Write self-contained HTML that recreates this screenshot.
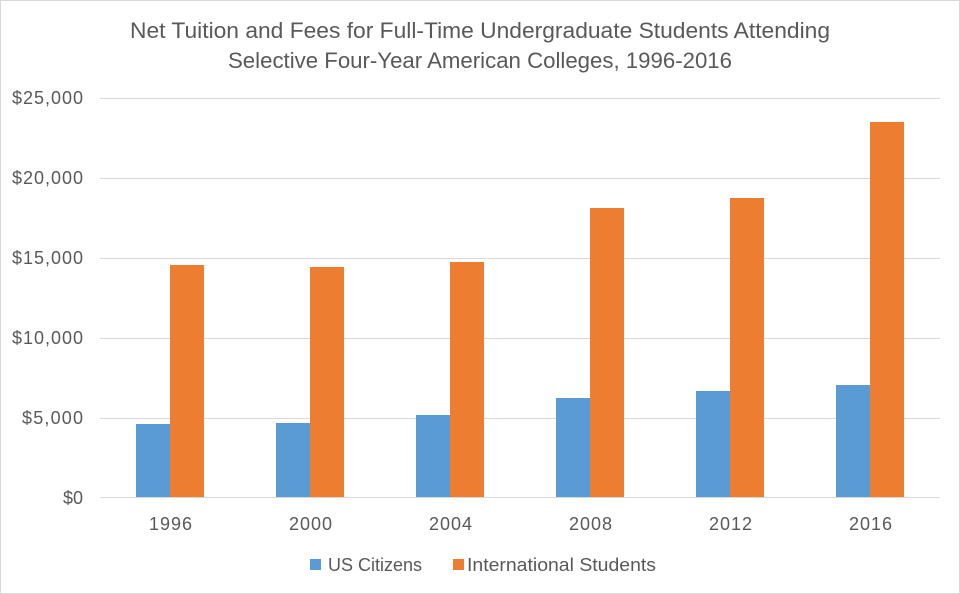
<!DOCTYPE html>
<html><head><meta charset="utf-8"><style>
body{margin:0;background:#fff;}
svg{display:block;font-family:"Liberation Sans",sans-serif;}
</style></head><body>
<svg width="960" height="594" viewBox="0 0 960 594">
<rect x="0.5" y="0.5" width="959" height="593" fill="#fff" stroke="#d9d9d9"/>
<text x="130" y="38" font-size="22" fill="#595959" textLength="700" lengthAdjust="spacingAndGlyphs">Net Tuition and Fees for Full-Time Undergraduate Students Attending</text>
<text x="228" y="68" font-size="22" fill="#595959" textLength="504" lengthAdjust="spacingAndGlyphs">Selective Four-Year American Colleges, 1996-2016</text>
<g stroke="#d9d9d9" stroke-width="1">
<line x1="100" x2="940" y1="98.5" y2="98.5"/>
<line x1="100" x2="940" y1="178.5" y2="178.5"/>
<line x1="100" x2="940" y1="258.5" y2="258.5"/>
<line x1="100" x2="940" y1="338.5" y2="338.5"/>
<line x1="100" x2="940" y1="418.5" y2="418.5"/>
<line x1="100" x2="940" y1="497.5" y2="497.5"/>
</g>
<g font-size="18" fill="#595959" lengthAdjust="spacingAndGlyphs">
<text x="12" y="104" textLength="71">$25,000</text>
<text x="12" y="184" textLength="71">$20,000</text>
<text x="12" y="264" textLength="71">$15,000</text>
<text x="12" y="344" textLength="71">$10,000</text>
<text x="22" y="424" textLength="61">$5,000</text>
<text x="63" y="504" textLength="20">$0</text>
</g>
<g fill="#5B9BD5">
<rect x="136" y="424" width="34" height="73"/>
<rect x="276" y="423" width="34" height="74"/>
<rect x="416" y="415" width="34" height="82"/>
<rect x="556" y="398" width="34" height="99"/>
<rect x="696" y="391" width="34" height="106"/>
<rect x="836" y="385" width="34" height="112"/>
</g>
<g fill="#ED7D31">
<rect x="170" y="265" width="34" height="232"/>
<rect x="310" y="267" width="34" height="230"/>
<rect x="450" y="262" width="34" height="235"/>
<rect x="590" y="208" width="34" height="289"/>
<rect x="730" y="198" width="34" height="299"/>
<rect x="870" y="122" width="34" height="375"/>
</g>
<g font-size="18" fill="#595959" lengthAdjust="spacingAndGlyphs">
<text x="149" y="530" textLength="43">1996</text>
<text x="289" y="530" textLength="43">2000</text>
<text x="429" y="530" textLength="43">2004</text>
<text x="569" y="530" textLength="43">2008</text>
<text x="709" y="530" textLength="43">2012</text>
<text x="849" y="530" textLength="43">2016</text>
</g>
<rect x="310" y="559" width="11" height="11" fill="#5B9BD5"/>
<text x="328" y="571" font-size="18" fill="#595959" textLength="94" lengthAdjust="spacingAndGlyphs">US Citizens</text>
<rect x="453" y="559" width="11" height="11" fill="#ED7D31"/>
<text x="467" y="571" font-size="18" fill="#595959" textLength="189" lengthAdjust="spacingAndGlyphs">International Students</text>
</svg>
</body></html>
